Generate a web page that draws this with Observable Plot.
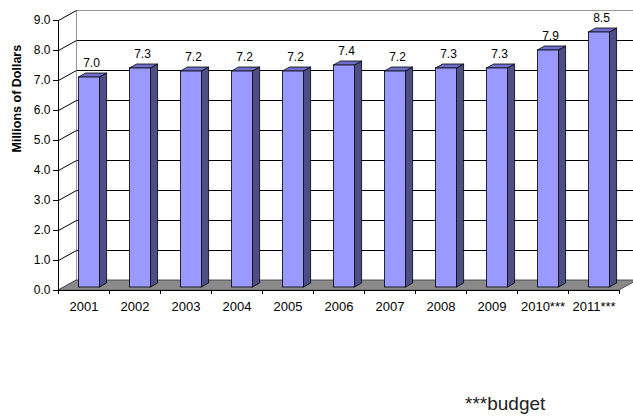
<!DOCTYPE html>
<html>
<head>
<meta charset="utf-8">
<script src="https://cdn.jsdelivr.net/npm/d3@7"></script>
<script src="https://cdn.jsdelivr.net/npm/@observablehq/plot@0.6"></script>
<style>
  html, body { margin: 0; padding: 0; background: #fff; }
  #wrap { position: relative; width: 633px; height: 416px; font-family: "Liberation Sans", Arial, sans-serif; }
  #note { position: absolute; left: 465px; top: 394px; font-size: 19px; line-height: 1; color: #222; }
</style>
</head>
<body>
<div id="wrap">
  <div id="chart"></div>
  <div id="note">***budget</div>
</div>
<script>
// Annual spending, millions of dollars (2010 and 2011 are budget figures)
const years = ["2001", "2002", "2003", "2004", "2005", "2006", "2007", "2008", "2009", "2010***", "2011***"];
const values = [7.0, 7.3, 7.2, 7.2, 7.2, 7.4, 7.2, 7.3, 7.3, 7.9, 8.5];
const yTicks = [0, 1, 2, 3, 4, 5, 6, 7, 8, 9];
const yTitle = "Millions of Dollars";

// Oblique depth of the 3-D box, expressed in data units
const depthX = 18 / 51;   // horizontal shift of the back wall (category units)
const depthY = 1 / 3;     // vertical shift of the back wall (value units)
const barW = 21 / 51;     // bar width (category units)
const front = 0.3, back = 0.7; // bars sit between 30% and 70% of the depth

const n = years.length;
const bars = years.map((year, i) => {
  const left = i + 0.5 - barW / 2 + front * depthX;
  return {i, year, v: values[i], left, right: left + barW};
});
const dbx = (back - front) * depthX, dby = (back - front) * depthY;

// side faces (vertical edges) and top faces (horizontal edges)
const sides = bars.flatMap(b => [
  {i: b.i, x: b.right, y1: front * depthY, y2: b.v + front * depthY},
  {i: b.i, x: b.right + dbx, y1: back * depthY, y2: b.v + back * depthY}
]);
const tops = bars.flatMap(b => [
  {i: b.i, y: b.v + front * depthY, x1: b.left, x2: b.right},
  {i: b.i, y: b.v + back * depthY, x1: b.left + dbx, x2: b.right + dbx}
]);
const floor = [
  {y: 0, x1: 0, x2: n},
  {y: depthY, x1: depthX, x2: n + depthX}
];

const chart = Plot.plot({
  width: 633,
  height: 320,
  marginLeft: 58,
  marginRight: 14,
  marginTop: 20,
  marginBottom: 30,
  style: {fontFamily: "'Liberation Sans', Arial, sans-serif", color: "#000", background: "#fff"},
  x: {type: "linear", domain: [0, n]},
  y: {domain: [0, 9]},
  marks: [
    // back wall gridlines and edges
    Plot.ruleY(yTicks.slice(1, 9), {y: d => d + depthY, x1: depthX, x2: n + depthX + 1, stroke: "#000", strokeWidth: 1}),
    Plot.ruleY([9], {y: d => d + depthY, x1: depthX, x2: n + depthX + 1, stroke: "#999", strokeWidth: 1}),
    Plot.ruleX([depthX], {y1: depthY, y2: 9 + depthY, stroke: "#999", strokeWidth: 1}),
    // side wall gridlines
    Plot.link(yTicks, {x1: 0, y1: d => d, x2: depthX, y2: d => d + depthY, stroke: "#000", strokeWidth: 1}),
    // floor
    Plot.areaX(floor, {y: "y", x1: "x1", x2: "x2", fill: "#8a8a8a", stroke: "#333", strokeWidth: 0.8, curve: "linear"}),
    // bars: side, top, front
    Plot.areaY(sides, {x: "x", y1: "y1", y2: "y2", z: "i", fill: "#4e4e86", stroke: "#000", strokeWidth: 0.8, curve: "linear"}),
    Plot.areaX(tops, {y: "y", x1: "x1", x2: "x2", z: "i", fill: "#7070cc", stroke: "#000", strokeWidth: 0.8, curve: "linear"}),
    Plot.rect(bars, {x1: "left", x2: "right", y1: front * depthY, y2: d => d.v + front * depthY, fill: "#9999ff", stroke: "#000", strokeWidth: 0.8}),
    // value labels
    Plot.text(bars, {
      x: d => d.left + barW / 2 + dbx / 2 - 0.03,
      y: d => d.v + back * depthY,
      text: d => d3.format(".1f")(d.v),
      dy: -10, fontSize: 12, fill: "#000"
    }),
    // front axis lines
    Plot.ruleX([0], {y1: 0, y2: 9, stroke: "#000", strokeWidth: 1}),
    Plot.ruleY([0], {x1: 0, x2: n, stroke: "#000", strokeWidth: 1}),
    Plot.axisY({ticks: yTicks, tickFormat: d3.format(".1f"), tickSize: 5, tickPadding: 3, label: null, fontSize: 12}),
    Plot.axisX({ticks: d3.range(n + 1), tickSize: 4, tickFormat: () => "", label: null}),
    Plot.axisX({ticks: bars.map(b => b.i + 0.5), tickFormat: d => years[Math.floor(d)], tickSize: 0, tickPadding: 11, label: null, fontSize: 13}),
    // y title
    Plot.text([yTitle], {frameAnchor: "left", rotate: -90, dx: -42, dy: -3, fontSize: 12.5, fontWeight: "bold"})
  ]
});
document.getElementById("chart").appendChild(chart);
</script>
</body>
</html>
